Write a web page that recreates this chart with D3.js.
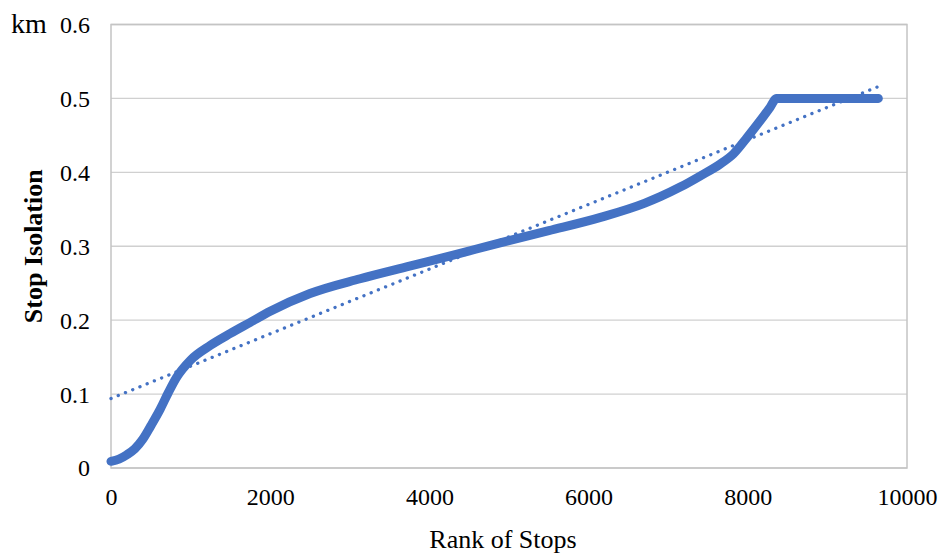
<!DOCTYPE html>
<html>
<head>
<meta charset="utf-8">
<script src="https://cdn.jsdelivr.net/npm/d3@7"></script>
<style>
  html, body { margin: 0; padding: 0; background: #fff; }
</style>
</head>
<body>
<svg id="chart" width="939" height="554"></svg>
<script>
// Stop isolation distance (km) by rank of stop
const rankOfStops = [0, 100, 200, 300, 400, 500, 620, 720, 820, 1000, 1250, 1500, 1750, 2000, 2500, 3130, 3750,
  4300, 4900, 5500, 6150, 6700, 6900, 7150, 7400, 7650, 7820, 7990, 8150, 8280, 8360, 9000, 9640];
const stopIsolation = [0.009, 0.012, 0.018, 0.026, 0.039, 0.057, 0.080, 0.102, 0.122, 0.146, 0.166, 0.182, 0.197,
  0.212, 0.236, 0.256, 0.273, 0.288, 0.305, 0.321, 0.339, 0.358, 0.367, 0.380, 0.395, 0.411, 0.425, 0.447, 0.469,
  0.488, 0.500, 0.500, 0.500];

// Linear trendline end points
const trendX = [0, 9640];
const trendY = [0.094, 0.516];

const xTicks = [0, 2000, 4000, 6000, 8000, 10000];
const yTicks = [0, 0.1, 0.2, 0.3, 0.4, 0.5, 0.6];

const serif = "'Liberation Serif', 'Times New Roman', Times, serif";
const svg = d3.select("#chart");
const plotLeft = 111, plotRight = 907, plotTop = 24.5, plotBottom = 468;

const x = d3.scaleLinear().domain([0, 10000]).range([plotLeft, plotRight]);
const y = d3.scaleLinear().domain([0, 0.6]).range([plotBottom, plotTop]);

// horizontal gridlines
svg.append("g")
  .selectAll("line")
  .data(yTicks)
  .join("line")
  .attr("x1", plotLeft).attr("x2", plotRight)
  .attr("y1", d => y(d)).attr("y2", d => y(d))
  .attr("stroke", "#d0d0d0").attr("stroke-width", 1.3);

// plot frame
svg.append("rect")
  .attr("x", plotLeft).attr("y", y(0.6))
  .attr("width", plotRight - plotLeft).attr("height", plotBottom - y(0.6))
  .attr("fill", "none").attr("stroke", "#c4c4c4").attr("stroke-width", 1.5);

// y-axis tick labels
const yAxis = d3.axisLeft(y).tickValues(yTicks).tickSize(0).tickPadding(21)
  .tickFormat(d => d === 0 ? "0" : d3.format(".1f")(d));
svg.append("g").attr("transform", `translate(${plotLeft},0)`).call(yAxis)
  .call(g => g.select(".domain").remove())
  .call(g => g.selectAll("text").attr("fill", "#000").attr("dy", "0.33em")
    .style("font-family", serif).style("font-size", "24px"));

// x-axis tick labels
const xAxis = d3.axisBottom(x).tickValues(xTicks).tickSize(0).tickPadding(20).tickFormat(d3.format("d"));
svg.append("g").attr("transform", `translate(0,${plotBottom})`).call(xAxis)
  .call(g => g.select(".domain").remove())
  .call(g => g.selectAll("text").attr("fill", "#000")
    .style("font-family", serif).style("font-size", "24px"));

// main data curve
const line = d3.line().x((d, i) => x(rankOfStops[i])).y(d => y(d)).curve(d3.curveMonotoneX);
svg.append("path")
  .datum(stopIsolation)
  .attr("d", line)
  .attr("fill", "none")
  .attr("stroke", "#4472C4")
  .attr("stroke-width", 9)
  .attr("stroke-linecap", "round")
  .attr("stroke-linejoin", "round");

// dotted linear trendline
svg.append("path")
  .datum(trendY)
  .attr("d", d3.line().x((d, i) => x(trendX[i])).y(d => y(d)))
  .attr("fill", "none")
  .attr("stroke", "#4472C4")
  .attr("stroke-width", 3.3)
  .attr("stroke-linecap", "round")
  .attr("stroke-dasharray", "0.1 7.7");

// unit label
svg.append("text").attr("x", 11).attr("y", 33)
  .style("font-family", serif).style("font-size", "28px").text("km");

// axis titles
svg.append("text")
  .attr("transform", `translate(42,${(plotTop + plotBottom) / 2}) rotate(-90)`)
  .attr("text-anchor", "middle")
  .style("font-family", serif).style("font-size", "26px").style("font-weight", "bold")
  .text("Stop Isolation");

svg.append("text")
  .attr("x", 503).attr("y", 548)
  .attr("text-anchor", "middle")
  .style("font-family", serif).style("font-size", "26px")
  .text("Rank of Stops");
</script>
</body>
</html>
